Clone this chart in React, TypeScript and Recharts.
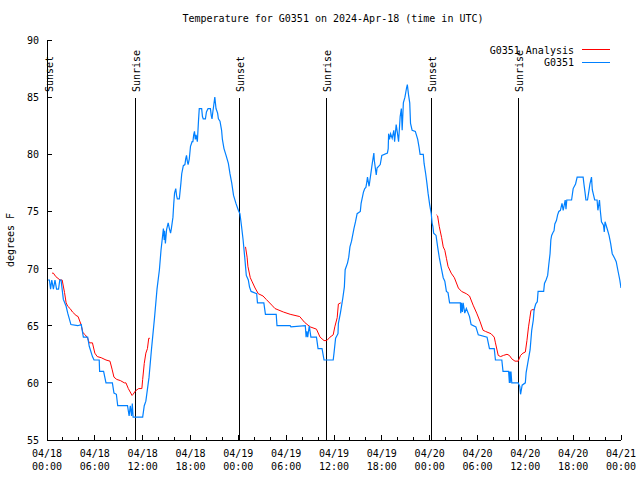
import { LineChart, Line, XAxis, YAxis, ReferenceLine, Customized } from "recharts";

const FONT = "'DejaVu Sans Mono', monospace";

// hours since 04/18 00:00 UTC, temperature in deg F
const g0351: [number, number][] = [
  [0.05, 69.0], [0.3, 69.0], [0.45, 68.2], [0.6, 69.0], [0.8, 68.2], [1.0, 69.0], [1.2, 68.2],
  [1.45, 68.2], [1.6, 69.0], [1.76, 69.0], [2.05, 67.3], [2.4, 66.7], [2.6, 66.1], [3.0, 65.1],
  [3.85, 65.0], [4.3, 65.1], [4.56, 64.0], [5.1, 64.0], [5.3, 63.2], [5.7, 62.3], [5.9, 62.0],
  [6.55, 62.0], [6.6, 61.0], [7.1, 61.0], [7.4, 60.0], [8.2, 60.0], [8.4, 59.1], [8.7, 59.0],
  [8.87, 58.0], [10.1, 58.0], [10.3, 57.1], [10.45, 58.0], [10.6, 57.1], [10.7, 58.2], [10.8, 57.0],
  [12.0, 57.0], [12.2, 58.0], [12.4, 58.4], [12.8, 60.5], [13.1, 62.9], [13.5, 65.8], [13.8, 68.2],
  [14.1, 69.9], [14.3, 71.6], [14.6, 73.5], [14.7, 72.5], [14.75, 73.3], [14.85, 72.2], [15.0, 73.4],
  [15.2, 74.0], [15.35, 73.5], [15.5, 73.1], [15.6, 73.5], [15.8, 74.5], [15.9, 75.7], [16.0, 76.6],
  [16.15, 77.0], [16.25, 76.4], [16.35, 76.1], [16.6, 76.1], [16.8, 77.5], [16.9, 78.3], [17.1, 79.0],
  [17.3, 79.1], [17.4, 79.6], [17.5, 79.9], [17.6, 79.4], [17.7, 79.1], [17.85, 79.6], [18.0, 80.7],
  [18.2, 81.1], [18.3, 81.1], [18.4, 81.7], [18.5, 82.0], [18.6, 81.3], [18.7, 81.7], [18.86, 81.1],
  [19.0, 82.9], [19.1, 84.0], [19.4, 84.0], [19.5, 83.3], [19.6, 83.1], [19.87, 83.1], [20.0, 83.7],
  [20.2, 84.0], [20.5, 84.0], [20.6, 83.4], [20.7, 83.1], [20.8, 83.7], [20.9, 84.2], [21.05, 85.0],
  [21.2, 84.0], [21.4, 83.6], [21.5, 83.1], [21.7, 82.9], [21.9, 82.1], [22.0, 81.3], [22.2, 80.5],
  [22.46, 79.9], [22.75, 79.2], [22.95, 78.3], [23.17, 77.5], [23.4, 76.4], [23.7, 75.7], [24.0, 75.1],
  [24.2, 74.8], [24.4, 73.7], [24.6, 72.5], [24.8, 71.0], [25.0, 69.4], [25.25, 69.0], [25.4, 68.4],
  [25.6, 68.0], [26.3, 67.8], [26.4, 67.0], [27.2, 67.0], [27.4, 66.0], [28.75, 66.0], [28.85, 65.0],
  [30.5, 65.0], [30.6, 64.9], [32.4, 65.0], [32.5, 64.0], [32.6, 64.5], [32.7, 64.0], [32.9, 65.0],
  [33.1, 64.0], [33.8, 64.0], [34.0, 63.0], [34.5, 63.0], [34.75, 62.0], [35.9, 62.0], [36.0, 62.6],
  [36.2, 63.9], [36.5, 64.3], [36.55, 65.2], [36.8, 66.1], [37.1, 67.4], [37.3, 68.4], [37.4, 69.9],
  [37.7, 70.5], [37.85, 71.0], [38.0, 71.9], [38.2, 72.4], [38.5, 73.5], [38.7, 74.1], [38.9, 74.8],
  [39.3, 75.0], [39.4, 75.7], [39.7, 76.7], [39.86, 77.0], [40.0, 77.1], [40.1, 77.5], [40.2, 78.0],
  [40.4, 77.2], [40.6, 78.2], [40.8, 79.2], [41.0, 80.1], [41.05, 79.5], [41.3, 78.2], [41.4, 78.8],
  [41.8, 79.1], [42.0, 79.9], [42.7, 80.1], [42.8, 80.5], [42.85, 81.8], [42.96, 81.3], [43.1, 81.8],
  [43.3, 81.4], [43.5, 82.1], [43.6, 81.1], [43.8, 82.6], [43.95, 81.9], [44.1, 81.1], [44.3, 83.3],
  [44.45, 84.0], [44.55, 82.1], [44.7, 84.5], [44.9, 85.0], [45.1, 85.8], [45.2, 86.1], [45.35, 85.2],
  [45.5, 84.5], [45.6, 82.7], [45.8, 82.1], [46.2, 82.0], [46.5, 81.3], [46.65, 80.7], [46.8, 80.0],
  [47.2, 80.0], [47.3, 79.2], [47.5, 78.3], [47.65, 77.5], [47.8, 76.6], [48.0, 75.6], [48.2, 74.8],
  [48.3, 74.0], [48.4, 73.7], [48.5, 73.1], [48.8, 72.9], [49.0, 71.9], [49.2, 71.0], [49.5, 69.9],
  [49.7, 69.2], [49.9, 68.9], [50.1, 68.0], [50.3, 67.9], [50.5, 67.0], [51.85, 67.0], [51.9, 66.1],
  [52.0, 67.0], [52.1, 66.2], [52.2, 67.0], [52.4, 66.1], [52.6, 66.5], [53.0, 65.8], [53.2, 65.1],
  [53.8, 64.9], [54.1, 64.2], [55.2, 64.0], [55.5, 63.0], [56.1, 63.0], [56.25, 62.0], [57.05, 62.0],
  [57.2, 61.0], [57.9, 61.0], [58.0, 60.0], [58.05, 61.0], [58.1, 60.0], [58.2, 61.0], [58.3, 60.0],
  [59.1, 60.0], [59.3, 59.7], [59.4, 59.0], [59.6, 59.8], [60.0, 60.0], [60.1, 60.9], [60.3, 61.7],
  [60.6, 62.9], [60.8, 64.6], [61.0, 65.5], [61.1, 66.4], [61.3, 66.9], [61.5, 67.1], [61.6, 68.0],
  [62.3, 68.0], [62.4, 68.7], [62.6, 69.0], [62.8, 69.4], [62.95, 70.4], [63.1, 71.3], [63.2, 72.5],
  [63.3, 72.9], [63.5, 73.2], [63.6, 73.3], [63.7, 73.9], [63.9, 74.2], [64.05, 74.7], [64.2, 75.0],
  [64.4, 75.1], [64.6, 75.7], [64.75, 75.1], [65.0, 76.0], [65.1, 75.2], [65.2, 76.0], [65.8, 76.0],
  [66.0, 77.0], [66.3, 77.4], [66.5, 78.0], [67.25, 78.0], [67.35, 77.4], [67.5, 76.6], [67.6, 76.0],
  [67.8, 76.0], [68.0, 76.9], [68.1, 77.4], [68.3, 78.0], [68.4, 76.9], [68.5, 76.6], [68.7, 76.0],
  [69.0, 76.0], [69.1, 75.1], [69.3, 76.0], [69.4, 75.1], [69.55, 74.1], [69.8, 73.8], [69.9, 73.2],
  [70.0, 74.1], [70.3, 73.4], [70.5, 72.9], [70.7, 72.2], [70.9, 71.3], [71.2, 70.9], [71.4, 70.6],
  [71.65, 69.7], [71.85, 69.0], [72.0, 68.3],
];

const analysisNight1: [number, number][] = [
  [0.63, 69.6], [0.8, 69.6], [1.1, 69.3], [1.63, 69.0], [1.9, 69.0], [2.2, 67.9], [2.4, 67.0],
  [2.6, 66.7], [2.9, 66.5], [3.2, 66.2], [3.64, 65.9], [3.9, 65.8], [4.27, 65.1], [4.5, 64.4],
  [4.8, 64.2], [5.1, 63.9], [5.3, 63.5], [5.7, 63.5], [6.0, 62.6], [6.3, 62.3], [6.8, 62.2],
  [7.4, 62.0], [7.9, 61.9], [8.16, 61.2], [8.4, 60.5], [8.75, 60.3], [9.2, 60.2], [9.7, 60.0],
  [9.9, 60.0], [10.2, 59.5], [10.67, 58.9], [10.8, 59.0], [11.1, 59.3], [11.5, 59.5], [11.9, 59.5],
  [12.0, 60.3], [12.2, 61.7], [12.4, 62.6], [12.6, 63.0], [12.76, 63.9], [12.9, 63.9],
];

const analysisNight2: [number, number][] = [
  [24.9, 71.9], [25.1, 71.0], [25.2, 70.2], [25.5, 69.2], [25.7, 68.9], [26.1, 68.3], [26.5, 67.8],
  [27.1, 67.6], [27.5, 67.3], [28.2, 66.8], [28.6, 66.5], [29.65, 66.2], [30.5, 66.0], [31.7, 65.8],
  [32.3, 65.3], [33.0, 64.9], [33.8, 64.7], [34.25, 64.0], [34.75, 63.7], [35.1, 63.7], [35.5, 64.0],
  [35.9, 64.2], [36.1, 64.9], [36.4, 65.7], [36.55, 66.9], [36.85, 67.0],
];

const analysisNight3: [number, number][] = [
  [48.85, 74.7], [49.0, 74.6], [49.2, 73.7], [49.5, 72.7], [49.7, 71.9], [49.9, 71.6], [50.1, 70.9],
  [50.3, 70.2], [50.7, 69.6], [51.1, 69.2], [51.6, 68.3], [52.0, 68.0], [52.6, 67.8], [53.0, 67.6],
  [53.45, 66.8], [53.9, 66.1], [54.3, 65.4], [54.7, 64.6], [55.0, 64.5], [55.7, 64.3], [56.1, 64.0],
  [56.25, 63.5], [56.6, 62.4], [56.9, 62.3], [57.25, 62.4], [57.7, 62.5], [58.0, 62.4], [58.3, 62.1],
  [58.7, 61.9], [59.1, 61.9], [59.4, 62.4], [59.7, 62.6], [60.0, 62.7], [60.2, 63.7], [60.4, 64.9],
  [60.55, 65.6], [60.7, 66.3], [60.8, 66.4], [61.2, 66.4],
];

const sunEvents: [number, string][] = [
  [0.12, "Sunset"], [11.04, "Sunrise"], [24.13, "Sunset"],
  [35.05, "Sunrise"], [48.2, "Sunset"], [59.1, "Sunrise"],
];

const hourTicks = [0, 2, 4, 6, 8, 10, 12, 14, 16, 18, 20, 22, 24, 26, 28, 30, 32, 34, 36,
  38, 40, 42, 44, 46, 48, 50, 52, 54, 56, 58, 60, 62, 64, 66, 68, 70, 72];
const dateLabels = ["04/18", "04/18", "04/18", "04/18", "04/19", "04/19", "04/19", "04/19",
  "04/20", "04/20", "04/20", "04/20", "04/21"];
const timeLabels = ["00:00", "06:00", "12:00", "18:00"];
const tempTicks = [55, 60, 65, 70, 75, 80, 85, 90];

const rows = (pts: [number, number][]) => pts.map(([h, t]) => ({ h, t }));

const BottomTick = (props: any) => {
  const { x, y, payload } = props;
  const v = payload.value;
  const major = v % 6 === 0;
  const i = v / 6;
  return (
    <g>
      <line x1={x} y1={y} x2={x} y2={y - (major ? 5 : 3)} stroke="#000" shapeRendering="crispEdges" />
      {major && (
        <text x={x} y={y + 17} textAnchor="middle" fontFamily={FONT} fontSize={10} fill="#000">
          {dateLabels[i]}
        </text>
      )}
      {major && (
        <text x={x} y={y + 30} textAnchor="middle" fontFamily={FONT} fontSize={10} fill="#000">
          {timeLabels[i % 4]}
        </text>
      )}
    </g>
  );
};

const TopTick = (props: any) => {
  const { x, y, payload } = props;
  const major = payload.value % 6 === 0;
  return <line x1={x} y1={y} x2={x} y2={y + (major ? 5 : 3)} stroke="#000" shapeRendering="crispEdges" />;
};

const LeftTick = (props: any) => {
  const { x, y, payload } = props;
  return (
    <g>
      <line x1={x} y1={y} x2={x + 5} y2={y} stroke="#000" shapeRendering="crispEdges" />
      <text x={x - 8} y={y + 4} textAnchor="end" fontFamily={FONT} fontSize={10} fill="#000">
        {payload.value}
      </text>
    </g>
  );
};

const RightTick = (props: any) => {
  const { x, y } = props;
  return <line x1={x} y1={y} x2={x - 5} y2={y} stroke="#000" shapeRendering="crispEdges" />;
};

const sunLabel = (name: string) => (props: any) => {
  const vb = props.viewBox || {};
  const { x, y, height } = vb;
  if (x == null) return null;
  return (
    <g>
      <line x1={x} y1={y + 58} x2={x} y2={y + height} stroke="#000" shapeRendering="crispEdges" />
      <text
        transform={`translate(${x + 5},${y + 52}) rotate(-90)`}
        fontFamily={FONT}
        fontSize={10}
        fill="#000"
      >
        {name}
      </text>
    </g>
  );
};

const Decorations = () => (
  <g fontFamily={FONT} fontSize={10} fill="#000">
    <text x={333} y={22} textAnchor="middle">Temperature for G0351 on 2024-Apr-18 (time in UTC)</text>
    <text transform="translate(14,240) rotate(-90)" textAnchor="middle">degrees F</text>
    <text x={574} y={53.5} textAnchor="end">G0351 Analysis</text>
    <line x1={582} y1={49.5} x2={610} y2={49.5} stroke="#ff0000" />
    <text x={574} y={66} textAnchor="end">G0351</text>
    <line x1={582} y1={62.5} x2={610} y2={62.5} stroke="#0080ff" />
  </g>
);

const axisStroke = { stroke: "#000", shapeRendering: "crispEdges" };

export default function App() {
  return (
    <div style={{ position: "absolute", left: 0, top: 0, background: "#fff" }}>
      <LineChart width={640} height={480} margin={{ top: 40, right: 19, bottom: 0, left: 0 }}>
        <XAxis
          xAxisId="bottom"
          type="number"
          dataKey="h"
          domain={[0, 72]}
          ticks={hourTicks}
          interval={0}
          height={40}
          tickSize={0}
          tickMargin={0}
          tickLine={false}
          axisLine={axisStroke}
          tick={<BottomTick />}
          allowDataOverflow
        />
        <XAxis
          xAxisId="top"
          orientation="top"
          type="number"
          dataKey="h"
          domain={[0, 72]}
          ticks={hourTicks}
          interval={0}
          height={0}
          tickSize={0}
          tickMargin={0}
          tickLine={false}
          axisLine={axisStroke}
          tick={<TopTick />}
          allowDataOverflow
        />
        <YAxis
          yAxisId="left"
          type="number"
          domain={[55, 90]}
          ticks={tempTicks}
          interval={0}
          width={47}
          tickSize={0}
          tickMargin={0}
          tickLine={false}
          axisLine={axisStroke}
          tick={<LeftTick />}
          allowDataOverflow
        />
        <YAxis
          yAxisId="right"
          orientation="right"
          type="number"
          domain={[55, 90]}
          ticks={tempTicks}
          interval={0}
          width={0}
          tickSize={0}
          tickMargin={0}
          tickLine={false}
          axisLine={axisStroke}
          tick={<RightTick />}
          allowDataOverflow
        />
        {sunEvents.map(([t, name], i) => (
          <ReferenceLine
            key={i}
            xAxisId="bottom"
            yAxisId="left"
            x={t}
            stroke="transparent"
            label={sunLabel(name)}
          />
        ))}
        {[analysisNight1, analysisNight2, analysisNight3].map((seg, i) => (
          <Line
            key={"a" + i}
            xAxisId="bottom"
            yAxisId="left"
            data={rows(seg)}
            dataKey="t"
            type="linear"
            stroke="#ff0000"
            strokeWidth={1}
            dot={false}
            isAnimationActive={false}
          />
        ))}
        <Line
          xAxisId="bottom"
          yAxisId="left"
          data={rows(g0351)}
          dataKey="t"
          type="linear"
          stroke="#0080ff"
          strokeWidth={1.2}
          dot={false}
          isAnimationActive={false}
        />
        <Customized component={Decorations} />
      </LineChart>
    </div>
  );
}
